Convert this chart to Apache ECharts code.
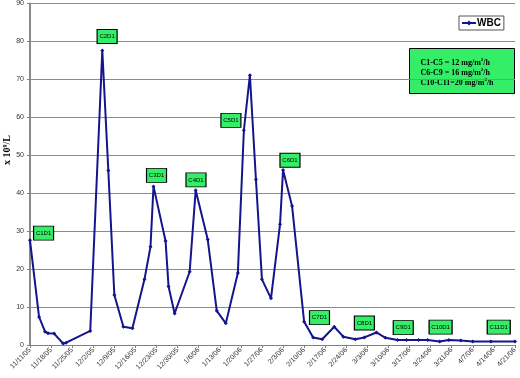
<!DOCTYPE html>
<html>
<head>
<meta charset="utf-8">
<script src="https://cdn.jsdelivr.net/npm/echarts@6/dist/echarts.min.js"></script>
<style>
  html, body { margin: 0; padding: 0; background: #fff; }
  #chart { width: 520px; height: 378px; }
</style>
</head>
<body>
<div id="chart"></div>
<script>
// days since 11/11/05 and WBC values (x 10^9/L)
var startDate = new Date(2005, 10, 11);
var sampleDays = [0, 3, 5, 6, 8, 11, 12, 20, 24, 26, 28, 31, 34, 38, 40, 41, 45, 46, 48, 53, 55, 59, 62, 65, 69, 71, 73, 75, 77, 80, 83, 84, 87, 91, 94, 97, 101, 104, 108, 111, 115, 118, 122, 125, 129, 132, 136, 139, 143, 147, 153, 161];
var wbcValues = [27.6, 7.4, 3.5, 3.1, 3.0, 0.4, 0.6, 3.7, 77.6, 46, 13.2, 4.8, 4.4, 17.3, 25.9, 41.8, 27.4, 15.4, 8.3, 19.3, 40.8, 27.8, 9.0, 5.7, 19.0, 56.6, 71.1, 43.6, 17.3, 12.3, 31.8, 46.1, 36.6, 6.1, 2.0, 1.5, 4.8, 2.2, 1.5, 2.0, 3.3, 1.9, 1.3, 1.3, 1.3, 1.3, 0.9, 1.3, 1.2, 0.9, 0.9, 0.9];
var cycleNames = ["C1D1", "C2D1", "C3D1", "C4D1", "C5D1", "C6D1", "C7D1", "C8D1", "C9D1", "C10D1", "C11D1"];
var doseLines = ["C1-C5 = 12 mg/m{s|2}/h", "C6-C9 = 16 mg/m{s|2}/h", "C10-C11=20 mg/m{s|2}/h"];

// where the green cycle tags sit (day, value)
var tagSpots = [[4.5, 29.5], [25.6, 81.3], [42, 44.7], [55.1, 43.5], [66.7, 59.2], [86.3, 48.7], [96.1, 7.2], [111, 5.8], [123.9, 4.6], [136.3, 4.7], [155.6, 4.7]];

var chart = echarts.init(document.getElementById("chart"));

function fmtDay(d) {
  var t = new Date(startDate.getTime());
  t.setDate(t.getDate() + d);
  return (t.getMonth() + 1) + "/" + t.getDate() + "/" + String(t.getFullYear()).slice(2);
}

var points = sampleDays.map(function (d, i) { return [d, wbcValues[i]]; });
var tags = cycleNames.map(function (n, i) {
  return {
    name: n,
    coord: tagSpots[i],
    symbolSize: [n.length > 4 ? 23 : 20, 14]
  };
});

var option = {
  animation: false,
  backgroundColor: "#fff",
  grid: { left: 30, right: 5, top: 3, bottom: 33 },
  legend: {
    left: 459,
    top: 16,
    padding: [2, 3, 2, 2],
    borderColor: "#555",
    borderWidth: 1,
    backgroundColor: "#fff",
    itemWidth: 14,
    itemHeight: 6,
    textStyle: { fontFamily: "Liberation Sans", fontWeight: "bold", fontSize: 10, color: "#000", padding: [0, 0, 0, -4] },
    data: ["WBC"]
  },
  xAxis: {
    type: "value",
    min: 0,
    max: 161,
    interval: 7,
    splitLine: { show: false },
    axisLine: { lineStyle: { color: "#808080", width: 1 } },
    axisTick: { show: true, length: 3, lineStyle: { color: "#808080" } },
    axisLabel: {
      rotate: 45,
      fontSize: 7,
      fontFamily: "Liberation Sans",
      color: "#333",
      margin: 4,
      hideOverlap: false,
      showMinLabel: true,
      showMaxLabel: true,
      formatter: fmtDay
    }
  },
  yAxis: {
    type: "value",
    min: 0,
    max: 90,
    interval: 10,
    axisLine: { show: true, lineStyle: { color: "#8a8a8a", width: 2 } },
    axisTick: { show: true, length: 3, lineStyle: { color: "#808080" } },
    axisLabel: { fontSize: 7, fontFamily: "Liberation Sans", color: "#333", margin: 6 },
    splitLine: { lineStyle: { color: "#8c8c8c", width: 1 } }
  },
  graphic: [
    {
      type: "text",
      left: 2,
      top: 135,
      rotation: Math.PI / 2,
      originX: 0,
      style: {
        text: "x 10⁹/L",
        x: 0,
        y: 0,
        fontFamily: "Liberation Serif",
        fontWeight: "bold",
        fontSize: 10,
        fill: "#000"
      }
    },
    {
      type: "group",
      left: 409,
      top: 48,
      children: [
        {
          type: "rect",
          shape: { x: 0, y: 0, width: 105, height: 45 },
          style: { fill: "#33ee66", stroke: "#000", lineWidth: 1 }
        },
        {
          type: "text",
          x: 11,
          y: 9,
          style: {
            text: doseLines.join("\n"),
            fontFamily: "Liberation Serif",
            fontWeight: "bold",
            fontSize: 8,
            lineHeight: 10,
            fill: "#000",
            rich: {
              s: { fontSize: 5, verticalAlign: "top", fontFamily: "Liberation Serif", fontWeight: "bold", padding: [0, 0, 4, 0] }
            }
          }
        }
      ]
    }
  ],
  series: [
    {
      name: "WBC",
      type: "line",
      data: points,
      symbol: "diamond",
      symbolSize: 4,
      showAllSymbol: true,
      color: "#14148c",
      lineStyle: { color: "#14148c", width: 2 },
      itemStyle: { color: "#14148c" },
      markPoint: {
        symbol: "rect",
        itemStyle: { color: "#33ee66", borderColor: "#000", borderWidth: 1 },
        label: {
          show: true,
          position: "inside",
          formatter: "{b}",
          fontSize: 6,
          fontFamily: "Liberation Sans",
          color: "#000"
        },
        data: tags
      }
    }
  ]
};

chart.setOption(option);
</script>
</body>
</html>
